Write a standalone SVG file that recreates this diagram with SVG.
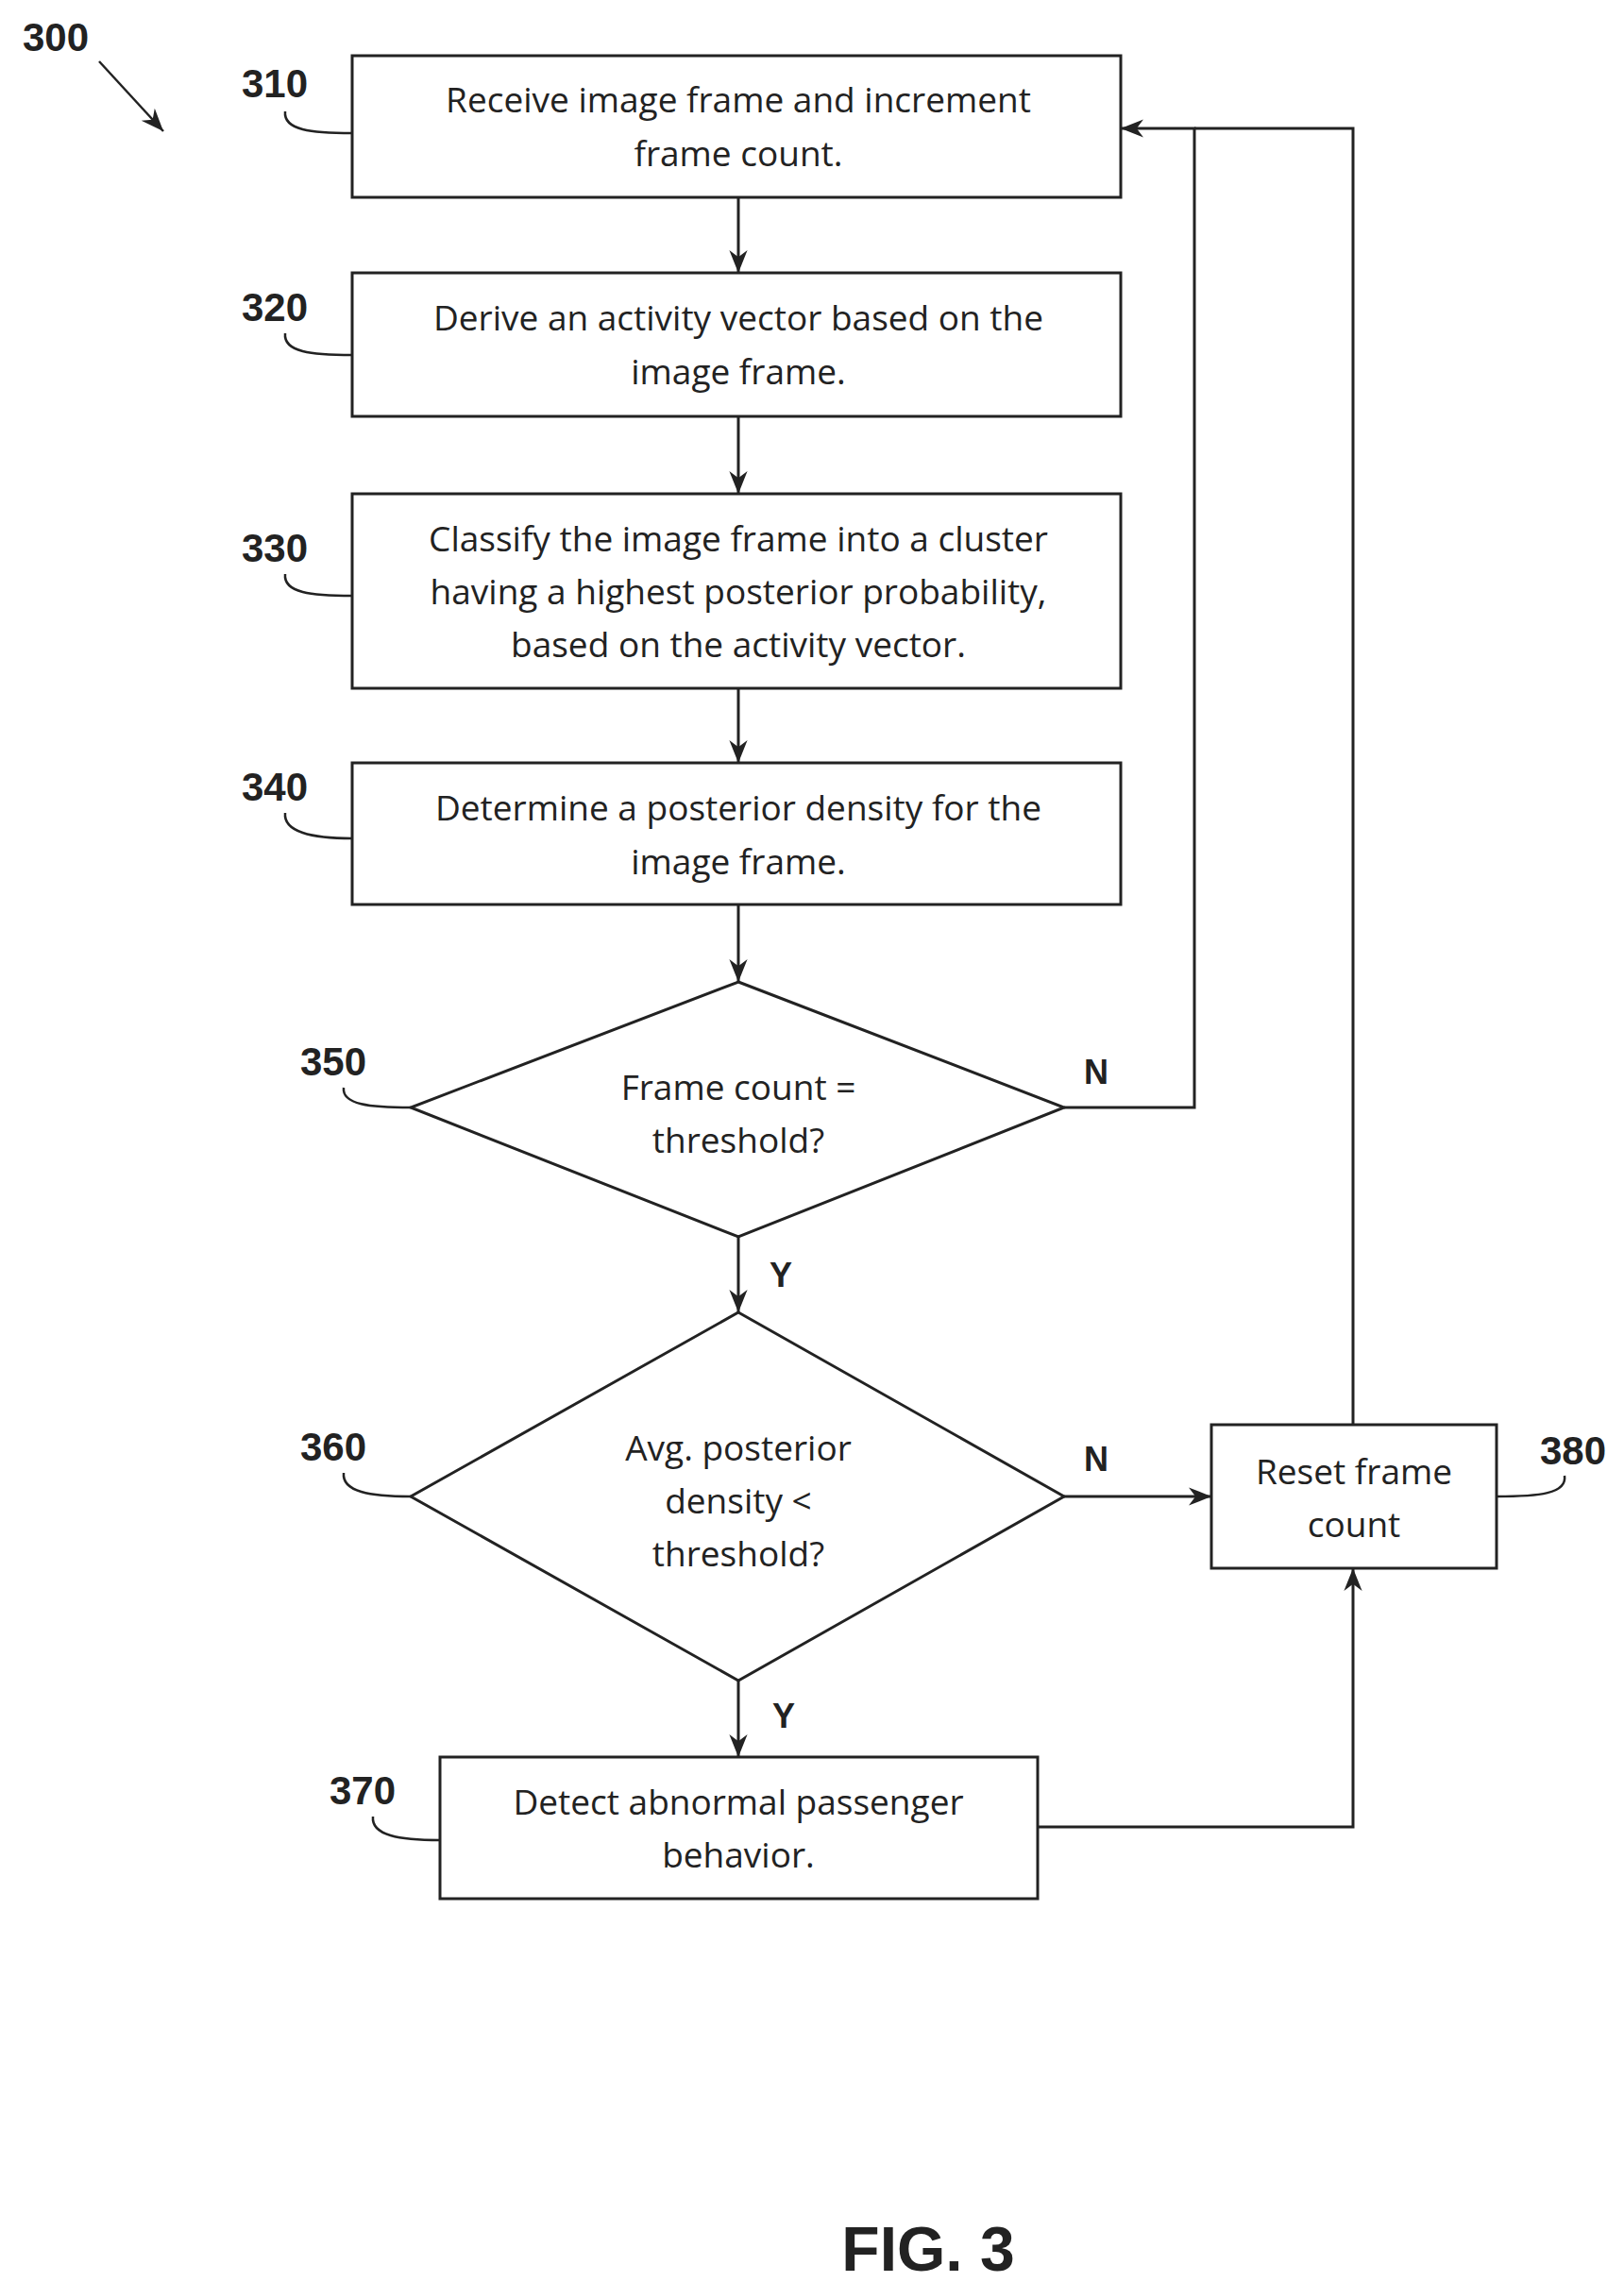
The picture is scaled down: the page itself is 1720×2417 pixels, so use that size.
<svg xmlns="http://www.w3.org/2000/svg" width="1720" height="2417" viewBox="0 0 1720 2417">
<style>
.b{fill:#fff;stroke:#222;stroke-width:3}
.t{font-family:"Open Sans",sans-serif;font-size:37px;fill:#222;text-anchor:middle}
.r{font-family:"Liberation Sans",sans-serif;font-size:42px;font-weight:bold;fill:#222;text-anchor:middle}
.c{fill:none;stroke:#222;stroke-width:3}
.l{fill:none;stroke:#222;stroke-width:2.5}
</style>
<defs>
<marker id="a2" viewBox="0 0 10 10" refX="10" refY="5" markerWidth="24" markerHeight="24" markerUnits="userSpaceOnUse" orient="auto"><path d="M0,1 L10,5 L0,9 L3,5 Z" fill="#222"/></marker>
</defs>
<g id="connectors">
<path class="c" d="M782,209 V289" marker-end="url(#a2)"/>
<path class="c" d="M782,441 V523" marker-end="url(#a2)"/>
<path class="c" d="M782,729 V808" marker-end="url(#a2)"/>
<path class="c" d="M782,958 V1040" marker-end="url(#a2)"/>
<path class="c" d="M782,1310 V1390" marker-end="url(#a2)"/>
<path class="c" d="M782,1780 V1861" marker-end="url(#a2)"/>
<path class="c" d="M1127,1173 H1265 V136 H1187" marker-end="url(#a2)"/>
<path class="c" d="M1433,1509 V136 H1265"/>
<path class="c" d="M1127,1585 H1283" marker-end="url(#a2)"/>
<path class="c" d="M1099,1935 H1433 V1661" marker-end="url(#a2)"/>
<text class="r" x="1161" y="1148" style="font-size:36px">N</text>
<text class="r" x="1161" y="1558" style="font-size:36px">N</text>
<text class="r" x="827" y="1363" style="font-size:36px">Y</text>
<text class="r" x="830" y="1830" style="font-size:36px">Y</text>
</g>
<g id="n300"><text class="r" x="59" y="54">300</text><path class="l" d="M105,65 L173,139" marker-end="url(#a2)"/></g>
<g id="n310"><rect class="b" x="373" y="59" width="814" height="150"/>
<text class="t" x="782" y="119">Receive image frame and increment</text><text class="t" x="782" y="176">frame count.</text>
<text class="r" x="291" y="103">310</text><path class="l" d="M302,118 C300,138 330,141 373,141"/></g>
<g id="n320"><rect class="b" x="373" y="289" width="814" height="152"/>
<text class="t" x="782" y="350">Derive an activity vector based on the</text><text class="t" x="782" y="407">image frame.</text>
<text class="r" x="291" y="340">320</text><path class="l" d="M302,353 C300,373 330,376 373,376"/></g>
<g id="n330"><rect class="b" x="373" y="523" width="814" height="206"/>
<text class="t" x="782" y="584">Classify the image frame into a cluster</text><text class="t" x="782" y="640">having a highest posterior probability,</text><text class="t" x="782" y="696">based on the activity vector.</text>
<text class="r" x="291" y="595">330</text><path class="l" d="M302,608 C300,628 330,631 373,631"/></g>
<g id="n340"><rect class="b" x="373" y="808" width="814" height="150"/>
<text class="t" x="782" y="869">Determine a posterior density for the</text><text class="t" x="782" y="926">image frame.</text>
<text class="r" x="291" y="848">340</text><path class="l" d="M302,861 C300,881 330,888 373,888"/></g>
<g id="n350"><polygon class="b" points="782,1040 1127,1173 782,1310 435,1173"/>
<text class="t" x="782" y="1165">Frame count =</text><text class="t" x="782" y="1221">threshold?</text>
<text class="r" x="353" y="1139">350</text><path class="l" d="M364,1152 C362,1170 392,1173 435,1173"/></g>
<g id="n360"><polygon class="b" points="782,1390 1127,1585 782,1780 435,1585"/>
<text class="t" x="782" y="1547">Avg. posterior</text><text class="t" x="782" y="1603">density &lt;</text><text class="t" x="782" y="1659">threshold?</text>
<text class="r" x="353" y="1547">360</text><path class="l" d="M364,1560 C362,1580 392,1585 435,1585"/></g>
<g id="n370"><rect class="b" x="466" y="1861" width="633" height="150"/>
<text class="t" x="782" y="1922">Detect abnormal passenger</text><text class="t" x="782" y="1978">behavior.</text>
<text class="r" x="384" y="1911">370</text><path class="l" d="M395,1924 C393,1944 423,1949 466,1949"/></g>
<g id="n380"><rect class="b" x="1283" y="1509" width="302" height="152"/>
<text class="t" x="1434" y="1572">Reset frame</text><text class="t" x="1434" y="1628">count</text>
<text class="r" x="1666" y="1551">380</text><path class="l" d="M1585,1585 C1630,1585 1660,1582 1657,1563"/></g>
<text x="983" y="2405" style="font-family:'Liberation Sans',sans-serif;font-size:66px;font-weight:bold;fill:#222" text-anchor="middle">FIG. 3</text>
</svg>
